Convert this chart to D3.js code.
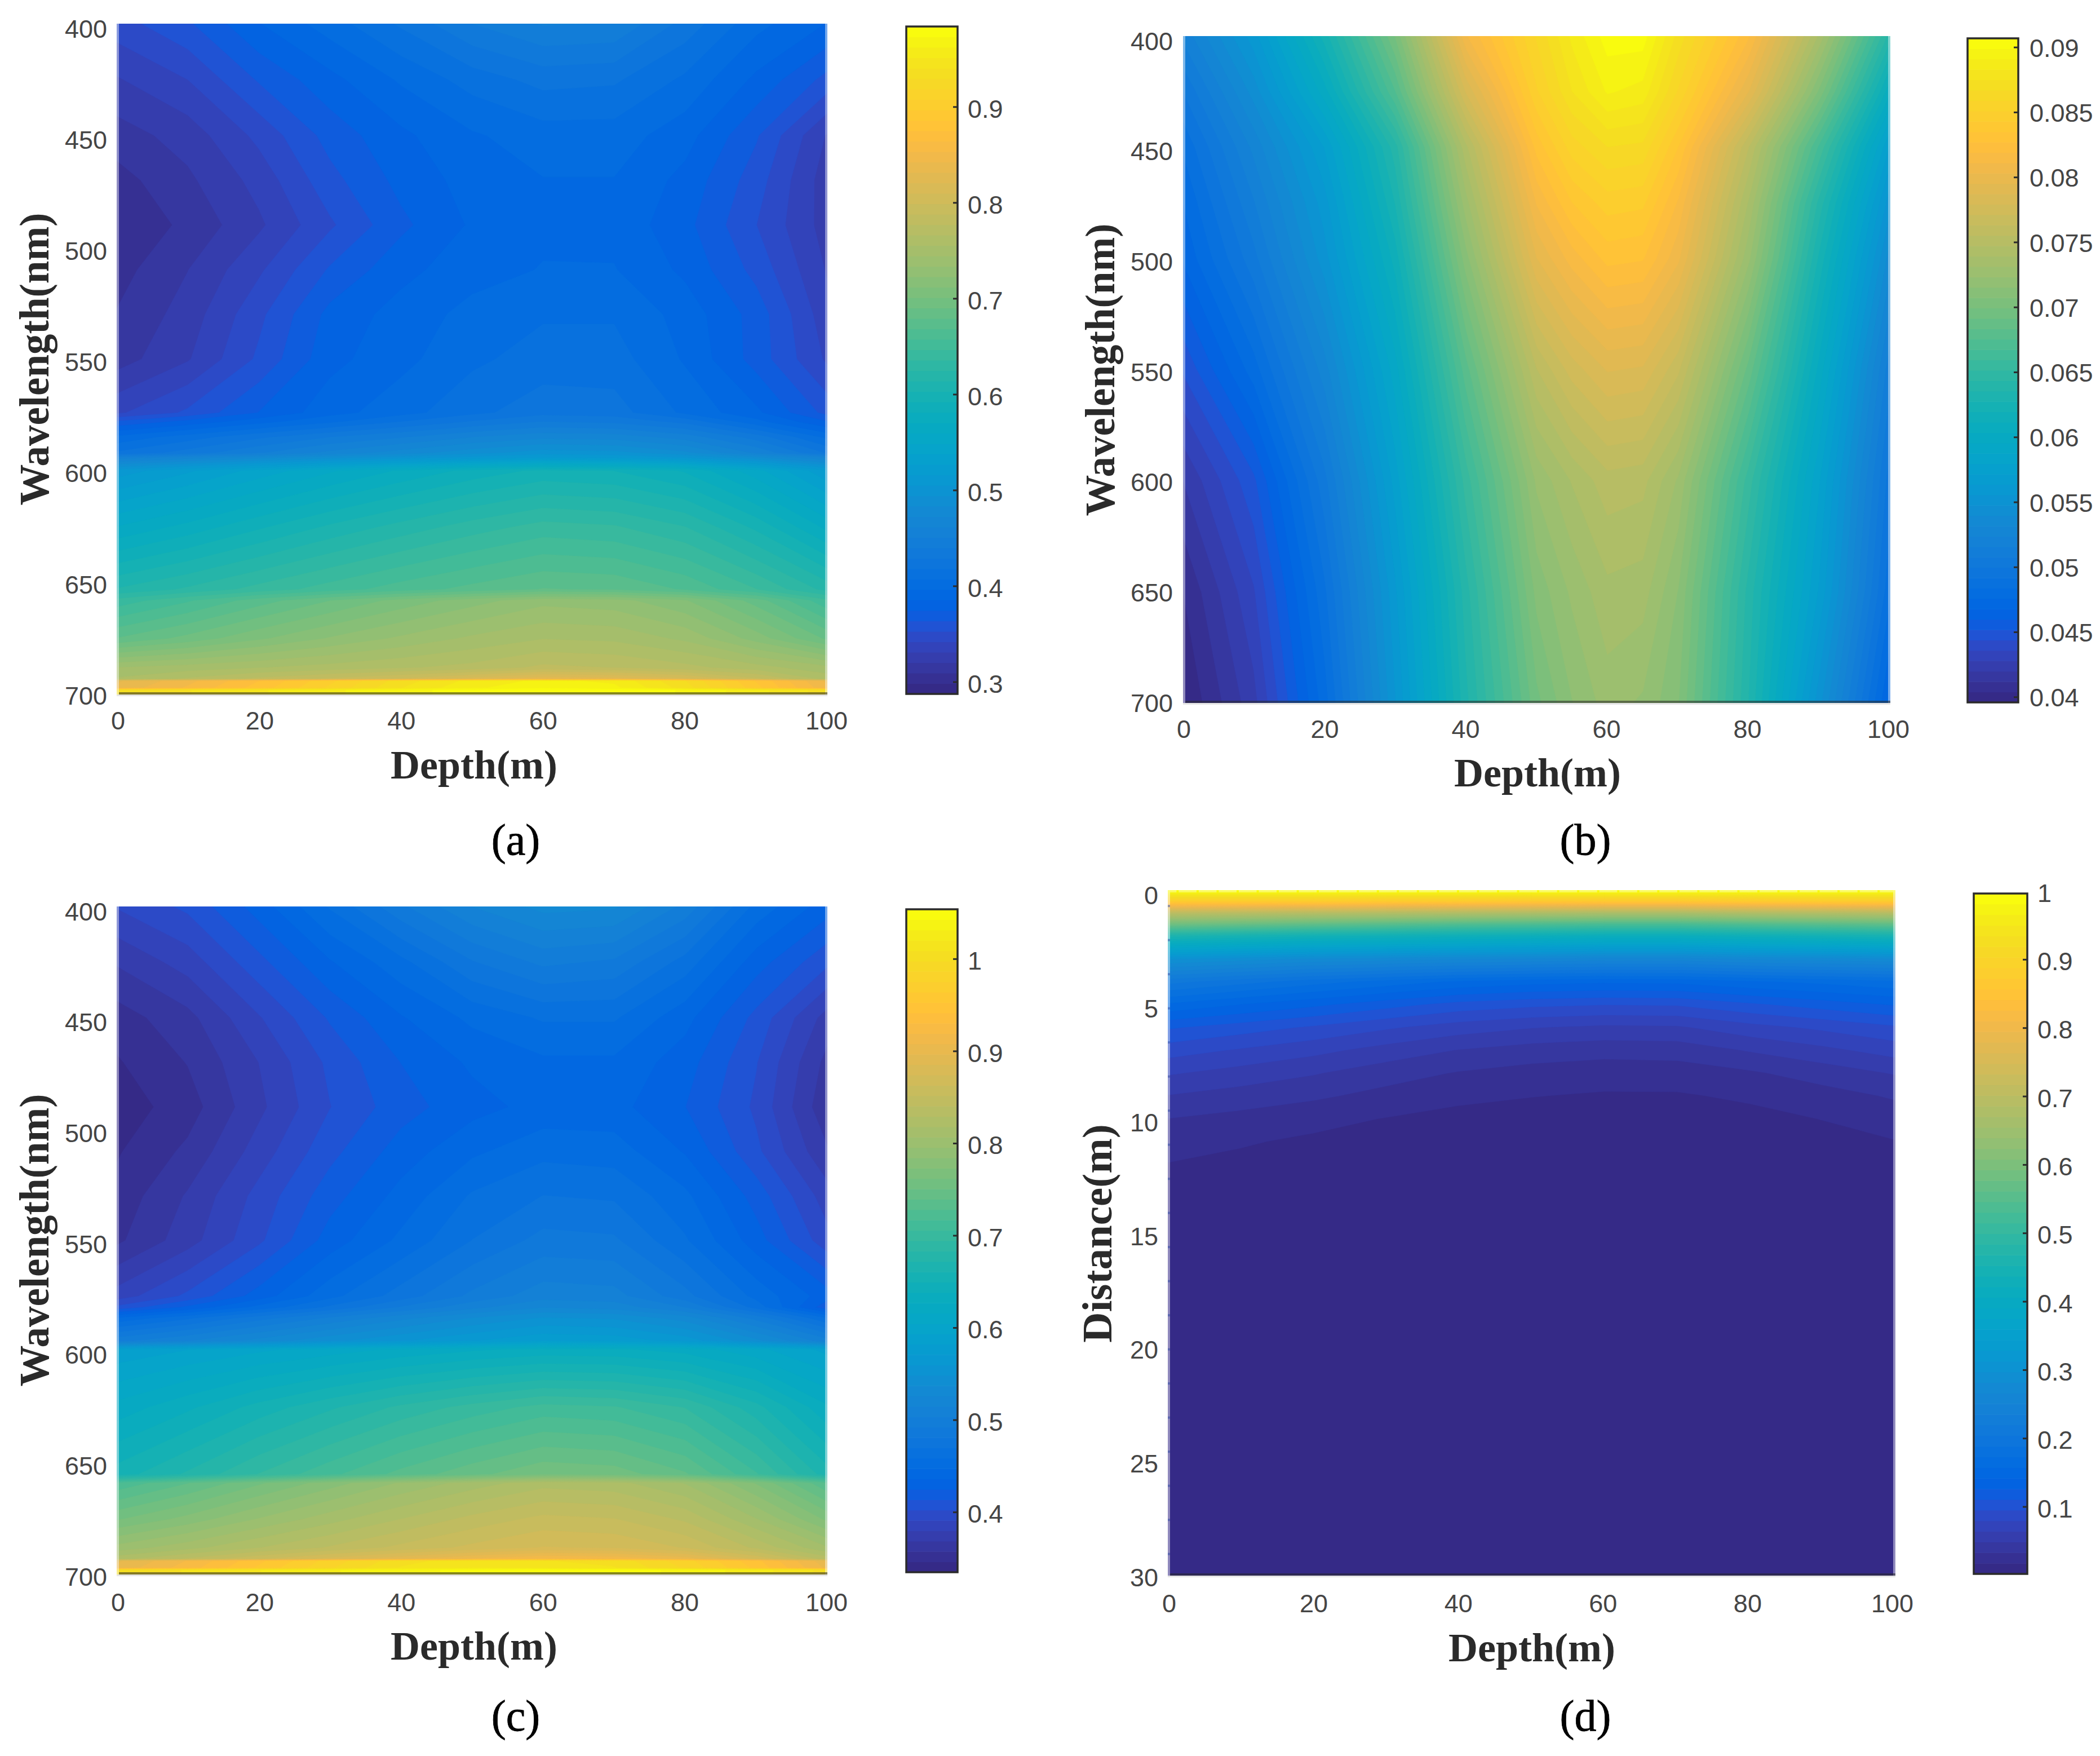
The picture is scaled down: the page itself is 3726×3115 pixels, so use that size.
<!DOCTYPE html>
<html>
<head>
<meta charset="utf-8">
<script src="https://cdnjs.cloudflare.com/ajax/libs/d3/7.8.5/d3.min.js"></script>
<style>html,body{margin:0;padding:0;background:#fff}svg{display:block}</style>
</head>
<body>
<svg id="chart" width="3726" height="3115" viewBox="0 0 3726 3115"></svg>
<script>
// ---------- colormap ----------
const parula = [[.2081,.1663,.5292],[.2116,.1898,.5777],[.2123,.2138,.6270],[.2081,.2386,.6771],[.1959,.2645,.7279],[.1707,.2919,.7792],[.1253,.3242,.8303],[.0591,.3598,.8683],[.0117,.3875,.8820],[.0060,.4086,.8828],[.0165,.4266,.8786],[.0329,.4430,.8720],[.0498,.4586,.8641],[.0629,.4737,.8554],[.0723,.4887,.8467],[.0779,.5040,.8384],[.0793,.5200,.8312],[.0749,.5375,.8263],[.0641,.5570,.8240],[.0488,.5772,.8228],[.0343,.5966,.8199],[.0265,.6137,.8135],[.0239,.6287,.8038],[.0231,.6418,.7913],[.0228,.6535,.7768],[.0267,.6642,.7607],[.0384,.6743,.7436],[.0590,.6838,.7254],[.0843,.6928,.7062],[.1133,.7015,.6859],[.1453,.7098,.6646],[.1801,.7177,.6424],[.2178,.7250,.6193],[.2586,.7317,.5954],[.3022,.7376,.5712],[.3482,.7424,.5473],[.3953,.7459,.5244],[.4420,.7481,.5033],[.4871,.7491,.4840],[.5300,.7491,.4661],[.5709,.7485,.4494],[.6099,.7473,.4337],[.6473,.7456,.4188],[.6834,.7435,.4044],[.7184,.7411,.3905],[.7525,.7384,.3768],[.7858,.7356,.3633],[.8185,.7327,.3498],[.8507,.7299,.3360],[.8824,.7274,.3217],[.9139,.7258,.3063],[.9450,.7261,.2886],[.9739,.7314,.2666],[.9938,.7455,.2403],[.9990,.7653,.2164],[.9955,.7861,.1967],[.9880,.8066,.1794],[.9789,.8271,.1633],[.9697,.8481,.1475],[.9626,.8705,.1309],[.9589,.8949,.1132],[.9598,.9218,.0948],[.9661,.9514,.0755],[.9763,.9831,.0538]];
const colors = parula.map(c => d3.rgb(c[0]*255, c[1]*255, c[2]*255).formatHex());

// ---------- data: grid nodes and values ----------
const depthNodes = [0,10,20,30,40,50,60,70,80,90,100];
const depthTickValues = [0,20,40,60,80,100];
const wavelengthTickValues = [400,450,500,550,600,650,700];
const distanceTickValues = [0,5,10,15,20,25,30];

const wavelengthNodesA = [400,425,450,470,490,510,530,550,574,578,585,592,594,600,625,653,658,675,688,693,694,697,698,700];
const valuesA = [
 [.348,.362,.385,.402,.42,.44,.452,.45,.425,.40,.385],
 [.33,.342,.365,.382,.398,.412,.422,.42,.405,.383,.36],
 [.315,.325,.345,.368,.383,.395,.402,.402,.39,.365,.33],
 [.305,.318,.335,.36,.378,.39,.396,.396,.382,.358,.325],
 [.30,.312,.329,.351,.372,.387,.394,.393,.378,.353,.326],
 [.305,.32,.34,.365,.382,.392,.397,.397,.383,.36,.33],
 [.31,.325,.35,.378,.39,.40,.406,.406,.392,.37,.335],
 [.315,.33,.355,.382,.393,.405,.412,.412,.395,.37,.34],
 [.34,.355,.375,.392,.403,.415,.425,.423,.405,.388,.36],
 [.365,.378,.392,.405,.418,.43,.44,.437,.425,.40,.375],
 [.40,.413,.427,.44,.45,.462,.47,.468,.457,.435,.405],
 [.42,.434,.45,.465,.478,.49,.50,.498,.486,.46,.428],
 [.455,.466,.478,.489,.499,.508,.515,.513,.504,.485,.461],
 [.51,.525,.542,.558,.572,.585,.595,.592,.58,.553,.518],
 [.56,.574,.59,.605,.618,.63,.64,.637,.625,.60,.567],
 [.615,.627,.64,.652,.663,.672,.68,.678,.667,.647,.621],
 [.64,.656,.674,.69,.705,.718,.73,.727,.713,.685,.649],
 [.68,.694,.71,.724,.736,.747,.755,.753,.742,.718,.688],
 [.745,.75,.755,.76,.765,.77,.78,.777,.77,.76,.748],
 [.757,.768,.78,.79,.80,.815,.83,.826,.812,.79,.762],
 [.83,.85,.875,.905,.935,.955,.965,.96,.93,.885,.84],
 [.835,.855,.88,.91,.94,.96,.97,.965,.935,.89,.845],
 [.93,.94,.95,.96,.97,.977,.984,.98,.972,.955,.935],
 [.93,.94,.95,.96,.97,.977,.984,.98,.972,.955,.935]
];

const wavelengthNodesB = [400,425,450,475,500,550,600,650,700];
const depthNodesB = [0,10,20,30,40,50,55,60,65,70,80,90,100];
const valuesB = [
 [.0518,.056,.0623,.070,.081,.086,.0885,.0903,.0903,.0872,.082,.0737,.0639],
 [.050,.0543,.060,.0675,.078,.085,.0875,.0892,.0888,.0858,.0795,.0705,.0605],
 [.0485,.0526,.0572,.064,.0745,.083,.0855,.0867,.0865,.0835,.0755,.0665,.057],
 [.0476,.0515,.056,.0628,.0728,.0812,.0835,.0847,.0845,.0818,.0738,.064,.055],
 [.0469,.0505,.0552,.0615,.0712,.0795,.0815,.083,.0828,.0805,.0725,.0625,.0535],
 [.0445,.048,.0528,.0592,.068,.0755,.0775,.0788,.0786,.0765,.0688,.060,.051],
 [.042,.045,.0505,.0575,.0655,.0725,.074,.0752,.075,.073,.0655,.058,.0495],
 [.0404,.0435,.049,.0562,.064,.071,.0725,.0737,.0735,.0715,.064,.057,.0485],
 [.0396,.0425,.048,.0555,.0633,.0697,.0715,.0727,.0722,.0708,.0635,.055,.0465]
];

const wavelengthNodesC = [400,425,450,470,490,510,530,550,575,580,585,595,599,625,655,659,675,688,693,694,697,698,700];
const valuesC = [
 [.392,.405,.43,.46,.49,.515,.53,.528,.50,.455,.43],
 [.37,.385,.41,.435,.455,.48,.495,.49,.465,.43,.405],
 [.352,.365,.39,.415,.435,.45,.46,.46,.44,.41,.375],
 [.345,.358,.38,.405,.425,.438,.445,.445,.43,.403,.365],
 [.34,.352,.377,.402,.42,.432,.44,.44,.425,.40,.36],
 [.345,.36,.385,.41,.43,.445,.455,.453,.435,.405,.37],
 [.35,.37,.395,.42,.44,.46,.47,.468,.45,.42,.385],
 [.355,.375,.40,.43,.45,.47,.485,.483,.46,.43,.395],
 [.385,.405,.43,.455,.475,.495,.51,.508,.485,.455,.43],
 [.405,.427,.451,.472,.493,.511,.525,.521,.503,.465,.417],
 [.45,.468,.488,.506,.523,.538,.55,.547,.532,.50,.46],
 [.50,.514,.53,.545,.558,.57,.58,.578,.566,.54,.508],
 [.585,.593,.602,.61,.618,.625,.63,.629,.622,.608,.59],
 [.62,.636,.654,.67,.686,.699,.71,.707,.694,.665,.629],
 [.655,.674,.695,.714,.732,.747,.76,.757,.741,.707,.666],
 [.72,.739,.76,.779,.797,.812,.825,.822,.806,.772,.73],
 [.76,.777,.796,.813,.829,.844,.855,.852,.838,.807,.77],
 [.80,.814,.829,.842,.855,.866,.875,.873,.862,.838,.808],
 [.825,.842,.861,.878,.894,.909,.92,.917,.903,.872,.835],
 [.895,.92,.95,.98,1.005,1.015,1.01,1.005,.98,.945,.90],
 [.90,.925,.955,.985,1.01,1.02,1.015,1.01,.985,.95,.905],
 [1.0,1.01,1.02,1.03,1.04,1.045,1.05,1.048,1.04,1.025,1.005],
 [1.0,1.01,1.02,1.03,1.04,1.045,1.05,1.048,1.04,1.025,1.005]
];

const distanceNodesD = [0,.5,1,1.5,2,3,4,5,6,7,8,9,10,11,12,13,15,20,30];
const valuesD = [
 [1,1,1,1,1,1,1,1,1,1,1],
 [.87,.87,.87,.865,.865,.86,.86,.86,.865,.87,.87],
 [.70,.695,.69,.685,.68,.675,.67,.67,.68,.685,.69],
 [.58,.57,.56,.55,.54,.535,.53,.53,.54,.55,.56],
 [.46,.45,.44,.435,.43,.425,.42,.42,.43,.44,.45],
 [.30,.29,.28,.275,.27,.265,.26,.26,.27,.275,.28],
 [.21,.195,.18,.167,.155,.148,.145,.146,.155,.162,.17],
 [.155,.142,.13,.117,.105,.099,.096,.097,.108,.118,.128],
 [.113,.103,.093,.082,.072,.065,.061,.062,.074,.083,.093],
 [.087,.078,.069,.058,.048,.042,.039,.04,.05,.06,.071],
 [.066,.058,.05,.04,.032,.027,.024,.025,.031,.04,.05],
 [.048,.042,.036,.028,.021,.018,.016,.016,.02,.027,.035],
 [.033,.028,.022,.017,.013,.011,.010,.010,.013,.018,.025],
 [.024,.019,.015,.012,.009,.007,.006,.006,.009,.012,.017],
 [.017,.014,.010,.008,.006,.005,.004,.004,.006,.009,.012],
 [.012,.010,.007,.005,.004,.003,.003,.003,.004,.006,.008],
 [.006,.005,.004,.003,.002,.002,.002,.002,.002,.003,.004],
 [.002,.002,.002,.002,.002,.002,.002,.002,.002,.002,.002],
 [.002,.002,.002,.002,.002,.002,.002,.002,.002,.002,.002]
];

const barTicksA = [.3,.4,.5,.6,.7,.8,.9];
const barTicksB = [.04,.045,.05,.055,.06,.065,.07,.075,.08,.085,.09];
const barTicksC = [.4,.5,.6,.7,.8,.9,1];
const barTicksD = [.1,.2,.3,.4,.5,.6,.7,.8,.9,1];
const minorLeftD = [.5,2,3.5,5,6.5,8,9.5,11,12.5,14,15.5,17,18.5,20,21.5,23,24.5,26,27.5,29];
const minorTopD = d3.range(1.2,100,2.77);

// ---------- layout ----------
const panels = [
 {name:"(a)", columns:depthNodes, rows:wavelengthNodesA, values:valuesA, domainY:[400,700], yTicks:wavelengthTickValues, yTitle:"Wavelength(nm)",
  box:[207,1468,42,1232], xLab:[209,1466], yLab:[50,1233], yLabRight:190, xLabY:1278,
  bar:[1608,1699,47,1231], barDomain:[.2876,.984], barTicks:barTicksA, barLabX:1717, barLabDy:2,
  xTitle:[841,1381], yTitlePos:[62,637], caption:[915,1516]},
 {name:"(b)", columns:depthNodesB, rows:wavelengthNodesB, values:valuesB, domainY:[400,700], yTicks:wavelengthTickValues, yTitle:"Wavelength(nm)",
  box:[2099,3354,64,1247], xLab:[2100,3350], yLab:[72,1246], yLabRight:2081, xLabY:1293,
  bar:[3491,3581,68,1246], barDomain:[.0396,.0907], barTicks:barTicksB, barLabX:3601, barLabDy:0,
  xTitle:[2728,1395], yTitlePos:[1953,656], caption:[2813,1516]},
 {name:"(c)", columns:depthNodes, rows:wavelengthNodesC, values:valuesC, domainY:[400,700], yTicks:wavelengthTickValues, yTitle:"Wavelength(nm)",
  box:[207,1468,1608,2793], xLab:[209,1466], yLab:[1616,2796], yLabRight:190, xLabY:2842,
  bar:[1608,1699,1613,2789], barDomain:[.335,1.054], barTicks:barTicksC, barLabX:1717, barLabDy:2,
  xTitle:[841,2944], yTitlePos:[62,2200], caption:[915,3070]},
 {name:"(d)", columns:depthNodes, rows:distanceNodesD, values:valuesD, domainY:[0,30], yTicks:distanceTickValues, yTitle:"Distance(m)",
  box:[2072,3363,1579,2795], xLab:[2074,3357], yLab:[1587,2797], yLabRight:2055, xLabY:2844,
  bar:[3502,3597,1585,2792], barDomain:[.002,.9967], barTicks:barTicksD, barLabX:3615, barLabDy:2,
  minorLeft:minorLeftD, minorTop:minorTopD,
  xTitle:[2718,2947], yTitlePos:[1948,2188], caption:[2813,3070]}
];

const svg = d3.select("#chart");
svg.append("rect").attr("width",3726).attr("height",3115).attr("fill","#fff");
const INK = "#454545", SANS = "'Liberation Sans',Arial,sans-serif", SERIF = "'Liberation Serif','Times New Roman',serif";
const styleAxis = g => {
  g.select(".domain").remove();
  g.selectAll(".tick line").remove();
  g.selectAll("text").attr("font-family",SANS).attr("font-size",45).attr("fill",INK);
  g.attr("font-family",SANS);
};

panels.forEach((p, pi) => {
  const [x0,x1,y0,y1] = p.box;
  const [vMin,vMax] = p.barDomain;
  const g = svg.append("g").attr("class","panel");
  const clipId = "clip"+pi;
  g.append("clipPath").attr("id",clipId).append("rect").attr("x",x0).attr("y",y0).attr("width",x1-x0).attr("height",y1-y0);

  // position scales
  const xPos = d3.scaleLinear().domain([0,100]).range([x0,x1]);
  const yPos = d3.scaleLinear().domain(p.domainY).range([y0,y1]);
  // grid index -> data value (grid nodes are not evenly spaced)
  const colAt = d3.scaleLinear().domain(d3.range(p.columns.length)).range(p.columns).clamp(true);
  const rowAt = d3.scaleLinear().domain(d3.range(p.rows.length)).range(p.rows).clamp(true);
  const project = d3.geoTransform({point(x,y){ this.stream.point(xPos(colAt(x-.5)), yPos(rowAt(y-.5))); }});
  const path = d3.geoPath(project);

  // 64-level banded field
  const thresholds = d3.range(1,64).map(i => vMin + i*(vMax-vMin)/64);
  const field = d3.contours().size([p.columns.length,p.rows.length]).smooth(true).thresholds(thresholds)(p.values.flat());
  const map = g.append("g").attr("clip-path",`url(#${clipId})`);
  map.append("rect").attr("x",x0).attr("y",y0).attr("width",x1-x0).attr("height",y1-y0).attr("fill",colors[0]);
  map.selectAll("path.band").data(field).join("path").attr("class","band")
     .attr("d",path).attr("fill",(d,i)=>colors[i+1]).attr("stroke",(d,i)=>colors[i+1]).attr("stroke-width",.6);

  // soft frame of the image: pale sides, dark bottom line, grey shadow below
  g.append("rect").attr("x",x0).attr("y",y0).attr("width",4).attr("height",y1-y0).attr("fill","#fff").attr("opacity",.45);
  g.append("rect").attr("x",x1-4).attr("y",y0).attr("width",4).attr("height",y1-y0).attr("fill","#fff").attr("opacity",.45);
  g.append("rect").attr("x",x0+4).attr("y",y1-4).attr("width",x1-x0-4).attr("height",4).attr("fill","#262626").attr("opacity",.55);
  g.append("rect").attr("x",x0).attr("y",y1).attr("width",x1-x0).attr("height",3).attr("fill","#e6e6e6");

  // minor ticks showing through the image edge
  const xLabel = d3.scaleLinear().domain([0,100]).range(p.xLab);
  const yLabel = d3.scaleLinear().domain(p.domainY).range(p.yLab);
  if (p.minorLeft) {
    g.selectAll("rect.minorL").data(p.minorLeft).join("rect").attr("class","minorL")
      .attr("x",x0).attr("width",4).attr("y",d=>yLabel(d)-2).attr("height",4).attr("fill","#1f3fa0").attr("opacity",.45);
    g.append("rect").attr("x",x0+4).attr("y",y0).attr("width",x1-x0-8).attr("height",4).attr("fill","#fff").attr("opacity",.35);
    g.selectAll("rect.minorT").data(p.minorTop).join("rect").attr("class","minorT")
      .attr("y",y0).attr("height",4).attr("x",d=>xLabel(d)-2).attr("width",4).attr("fill",colors[63]);
  }

  // tick labels
  g.append("g").attr("transform",`translate(0,${p.xLabY-16})`)
    .call(d3.axisBottom(xLabel).tickValues(depthTickValues).tickSize(0).tickPadding(0)).call(styleAxis)
    .selectAll("text").attr("dy",".71em");
  g.append("g").attr("transform",`translate(${p.yLabRight},0)`)
    .call(d3.axisLeft(yLabel).tickValues(p.yTicks).tickSize(0).tickPadding(0)).call(styleAxis)
    .selectAll("text").attr("dy",".36em");

  // titles
  g.append("text").attr("x",p.xTitle[0]).attr("y",p.xTitle[1]).attr("text-anchor","middle")
    .attr("font-family",SERIF).attr("font-weight","bold").attr("font-size",72).attr("fill","#2a2a2a").text("Depth(m)");
  g.append("text").attr("transform",`translate(${p.yTitlePos[0]+24},${p.yTitlePos[1]}) rotate(-90)`).attr("text-anchor","middle")
    .attr("font-family",SERIF).attr("font-weight","bold").attr("font-size",p.yTitle==="Distance(m)"?75:73).attr("fill","#2a2a2a").text(p.yTitle);
  g.append("text").attr("x",p.caption[0]).attr("y",p.caption[1]).attr("text-anchor","middle")
    .attr("font-family",SERIF).attr("font-size",78).attr("fill","#000").attr("stroke","#000").attr("stroke-width",.8).text(p.name);

  // colour bar
  const [bx0,bx1,by0,by1] = p.bar;
  const barY = d3.scaleLinear().domain(p.barDomain).range([by1,by0]);
  const bandH = (by1-by0)/64;
  const bar = g.append("g");
  bar.selectAll("rect").data(colors).join("rect")
    .attr("x",bx0).attr("width",bx1-bx0)
    .attr("y",(d,i)=>by1-(i+1)*bandH).attr("height",bandH+.6).attr("fill",d=>d);
  bar.append("rect").attr("x",bx0).attr("y",by0).attr("width",bx1-bx0).attr("height",by1-by0)
    .attr("fill","none").attr("stroke","#2b2b2b").attr("stroke-width",3.5);
  bar.selectAll("line").data(p.barTicks.filter(t=>barY(t)>by0+2 && barY(t)<by1-2)).join("line")
    .attr("x1",bx1-8).attr("x2",bx1).attr("y1",d=>barY(d)).attr("y2",d=>barY(d))
    .attr("stroke","#2b2b2b").attr("stroke-width",3);
  g.append("g").attr("transform",`translate(${p.barLabX},${p.barLabDy})`)
    .call(d3.axisRight(barY).tickValues(p.barTicks).tickFormat(d=>String(d)).tickSize(0).tickPadding(0)).call(styleAxis)
    .selectAll("text").attr("dy",".36em");
});
</script>
</body>
</html>
